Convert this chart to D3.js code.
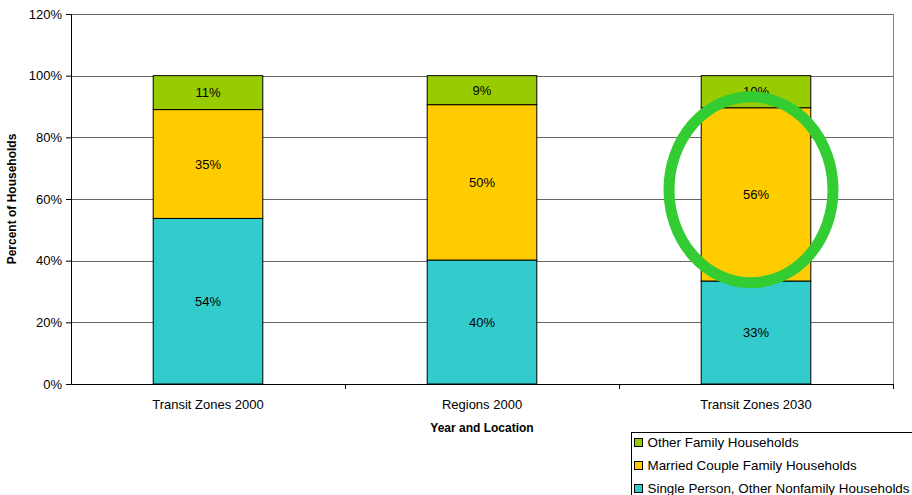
<!DOCTYPE html>
<html>
<head>
<meta charset="utf-8">
<script src="https://cdn.jsdelivr.net/npm/d3@7"></script>
<style>
  body { margin: 0; background: #fff; }
  svg { display: block; font-family: "Liberation Sans", Arial, sans-serif; }
</style>
</head>
<body>
<div id="chart"></div>
<script>
// chart data
const categories = ["Transit Zones 2000", "Regions 2000", "Transit Zones 2030"]
const singlePerson = [53.7, 40.2, 33.4]
const marriedCouple = [35.3, 50.4, 56.2]
const otherFamily = [11.0, 9.4, 10.4]
const yTicks = [0, 20, 40, 60, 80, 100, 120]

const seriesNames = ["Single Person, Other Nonfamily Households", "Married Couple Family Households", "Other Family Households"]
const seriesColors = ["#33cccc", "#ffcc00", "#99cc00"]

let width = 912, height = 495
let margin = {top: 14, right: 19, bottom: 111, left: 71}
let innerW = width - margin.left - margin.right
let innerH = height - margin.top - margin.bottom

let rows = categories.map((c, i) => ({cat: c, s0: singlePerson[i], s1: marriedCouple[i], s2: otherFamily[i]}))
let stacked = d3.stack().keys(["s0", "s1", "s2"])(rows)

let x = d3.scaleBand().domain(categories).range([0, innerW])
let y = d3.scaleLinear().domain([0, 120]).range([innerH, 0])
let barW = x.bandwidth() * 0.4

let svg = d3.select("#chart").append("svg")
  .attr("width", width).attr("height", height)

let g = svg.append("g").attr("transform", "translate(" + margin.left + "," + margin.top + ")")

// gridlines
g.append("g").selectAll("line").data(yTicks.slice(1)).join("line")
  .attr("x1", 0).attr("x2", innerW)
  .attr("y1", d => Math.round(y(d)) + 0.5).attr("y2", d => Math.round(y(d)) + 0.5)
  .attr("stroke", "#666").attr("stroke-width", 1)

// right border of plot area
g.append("line").attr("x1", innerW + 0.5).attr("x2", innerW + 0.5)
  .attr("y1", 0).attr("y2", innerH).attr("stroke", "#808080")

// bars
let layers = g.append("g").selectAll("g").data(stacked).join("g")
  .attr("fill", (d, i) => seriesColors[i])

layers.selectAll("rect").data(d => d).join("rect")
  .attr("x", d => x(d.data.cat) + x.bandwidth() / 2 - barW / 2)
  .attr("width", barW)
  .attr("y", d => y(d[1]))
  .attr("height", d => y(d[0]) - y(d[1]))
  .attr("stroke", "#000").attr("stroke-width", 1)

// value labels
layers.selectAll("text").data(d => d).join("text")
  .attr("x", d => x(d.data.cat) + x.bandwidth() / 2)
  .attr("y", d => y((d[0] + d[1]) / 2))
  .attr("dy", "0.35em")
  .attr("text-anchor", "middle")
  .attr("fill", "#000")
  .attr("font-size", 13)
  .text(d => Math.round(d[1] - d[0]) + "%")

// axes
let yAxis = d3.axisLeft(y).tickValues(yTicks).tickSizeOuter(0).tickSize(5).tickPadding(4)
  .tickFormat(d => d + "%")
let yg = g.append("g").call(yAxis)
yg.select(".domain").attr("stroke", "#000")
yg.selectAll("text").attr("font-size", 13).attr("fill", "#000").attr("font-family", "Liberation Sans, Arial, sans-serif")

let xAxis = d3.axisBottom(x).tickSize(0).tickPadding(16).tickSizeOuter(0)
let xg = g.append("g").attr("transform", "translate(0," + innerH + ")").call(xAxis)
xg.select(".domain").attr("stroke", "#000")
xg.selectAll("text").attr("font-size", 13).attr("fill", "#000").attr("font-family", "Liberation Sans, Arial, sans-serif")

// category boundary ticks
g.append("g").selectAll("line").data(d3.range(1, categories.length + 1)).join("line")
  .attr("x1", d => Math.round(x.step() * d) + 0.5).attr("x2", d => Math.round(x.step() * d) + 0.5)
  .attr("y1", innerH).attr("y2", innerH + 5)
  .attr("stroke", "#000")

// axis titles
svg.append("text")
  .attr("x", margin.left + innerW / 2).attr("y", 432)
  .attr("text-anchor", "middle").attr("font-size", 12).attr("font-weight", "bold")
  .text("Year and Location")

svg.append("text")
  .attr("transform", "translate(16," + (margin.top + innerH / 2) + ") rotate(-90)")
  .attr("text-anchor", "middle").attr("font-size", 12).attr("font-weight", "bold")
  .text("Percent of Households")

// highlight ellipse on the 2030 married-couple segment
g.append("ellipse")
  .attr("cx", x(categories[2]) + x.bandwidth() / 2 - 5)
  .attr("cy", y(63))
  .attr("rx", 82).attr("ry", 93)
  .attr("fill", "none").attr("stroke", "#33cc33").attr("stroke-width", 11)

// legend
let legend = svg.append("g").attr("transform", "translate(631.5,432.5)")
legend.append("rect").attr("width", 300).attr("height", 80)
  .attr("fill", "#fff").attr("stroke", "#000")

let legendItems = [2, 1, 0]
let li = legend.selectAll("g.item").data(legendItems).join("g")
  .attr("class", "item")
  .attr("transform", (d, i) => "translate(3," + (10 + i * 23) + ")")
li.append("rect").attr("width", 8).attr("height", 8).attr("y", -4)
  .attr("fill", d => seriesColors[d]).attr("stroke", "#000")
li.append("text").attr("x", 13).attr("dy", "0.35em").attr("font-size", 13.4)
  .text(d => seriesNames[d])
</script>
</body>
</html>
